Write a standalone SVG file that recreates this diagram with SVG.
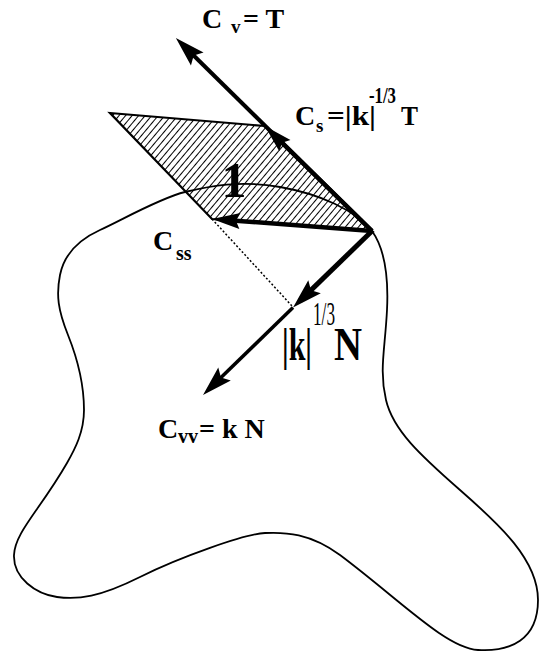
<svg xmlns="http://www.w3.org/2000/svg" width="540" height="656" viewBox="0 0 540 656">
<style>
.lbl{font-family:"Liberation Serif","Times New Roman",serif;font-weight:bold;fill:#000}
.thin{font-weight:normal}
.ln{stroke:#000;fill:none}
</style>
<defs>
<pattern id="hatch" patternUnits="userSpaceOnUse" width="5" height="5" patternTransform="rotate(40)">
<line x1="0" y1="0" x2="0" y2="5" stroke="#000" stroke-width="2"/>
</pattern>
<marker id="ah" markerUnits="userSpaceOnUse" viewBox="-32 -11 34 22" markerWidth="34" markerHeight="22" refX="-10" refY="0" orient="auto">
<path d="M0,0 L-30,-9 L-25,0 L-30,9 Z" fill="#000"/>
</marker>
<marker id="ahs" markerUnits="userSpaceOnUse" viewBox="-32 -11 34 22" markerWidth="34" markerHeight="22" refX="-10" refY="0" orient="auto">
<path d="M0,0 L-28,-8 L-24,0 L-28,8 Z" fill="#000"/>
</marker>
</defs>
<rect width="540" height="656" fill="#fff"/>

<g id="plane">
<polygon points="110,113 265,126 372,231 212,219" fill="url(#hatch)" stroke="#000" stroke-width="2.2" stroke-linejoin="miter"/>
</g>

<g id="curve">
<path class="ln" stroke-width="1.8" d="M372,231 C382,245 389,270 387,310 S379,370 386,400 S420,455 460,490 S538,560 538,600 S510,652 478,650 S400,600 340,555 C310,533 285,532 265,533 C245,534 180,557 140,577 S78,600 57,597 S13,578 14,555 S40,510 67,463 C75,449 84,432 84,410 C84,388 78,360 68,335 S56,295 60,275 S78,240 100,230 S160,198 185,192 S240,180 280,187 S355,210 372,231 Z"/>
</g>

<g id="connectors">
<line class="ln" x1="372" y1="231" x2="183" y2="45" stroke-width="4" marker-end="url(#ah)"/>
<line class="ln" x1="372" y1="231" x2="272" y2="133" stroke-width="4.5" marker-end="url(#ahs)"/>
<line class="ln" x1="372" y1="231" x2="222" y2="219.7" stroke-width="4.5" marker-end="url(#ahs)"/>
<line class="ln" x1="372" y1="231" x2="300.2" y2="300.6" stroke-width="5" marker-end="url(#ah)"/>
<line class="ln" x1="293" y1="307.6" x2="210.2" y2="388" stroke-width="3.5" marker-end="url(#ah)"/>
<line class="ln" x1="212" y1="219" x2="292" y2="306" stroke-width="1.5" stroke-dasharray="2,2"/>
</g>

<g id="label-cv">
<text class="lbl" font-size="28" x="202" y="28">C</text>
<text class="lbl" font-size="19" x="231" y="33">v</text>
<text class="lbl" font-size="28" x="243" y="28">= T</text>
</g>

<g id="label-cs">
<text class="lbl" font-size="28" x="295" y="125">C</text>
<text class="lbl" font-size="19" x="316" y="132">s</text>
<text class="lbl" font-size="28" x="327" y="125" textLength="49" lengthAdjust="spacingAndGlyphs">=|k|</text>
<text class="lbl" font-size="24" x="369" y="103" textLength="27" lengthAdjust="spacingAndGlyphs">-1/3</text>
<text class="lbl" font-size="28" x="401" y="125" textLength="17" lengthAdjust="spacingAndGlyphs">T</text>
</g>

<g id="label-one">
<text class="lbl" font-size="50" x="234" y="197" text-anchor="middle">1</text>
</g>

<g id="label-css">
<text class="lbl" font-size="28" x="153" y="250">C</text>
<text class="lbl" font-size="20" x="176" y="260">ss</text>
</g>

<g id="label-n">
<text class="lbl" font-size="46" x="282" y="360" textLength="30" lengthAdjust="spacingAndGlyphs">|k|</text>
<text class="lbl thin" font-size="34" x="313" y="325" textLength="22" lengthAdjust="spacingAndGlyphs">1/3</text>
<text class="lbl" font-size="46" x="334" y="360" textLength="28" lengthAdjust="spacingAndGlyphs">N</text>
</g>

<g id="label-cvv">
<text class="lbl" font-size="28" x="158" y="438">C</text>
<text class="lbl" font-size="20" x="178" y="443">vv</text>
<text class="lbl" font-size="28" x="199" y="438">= k N</text>
</g>
</svg>
